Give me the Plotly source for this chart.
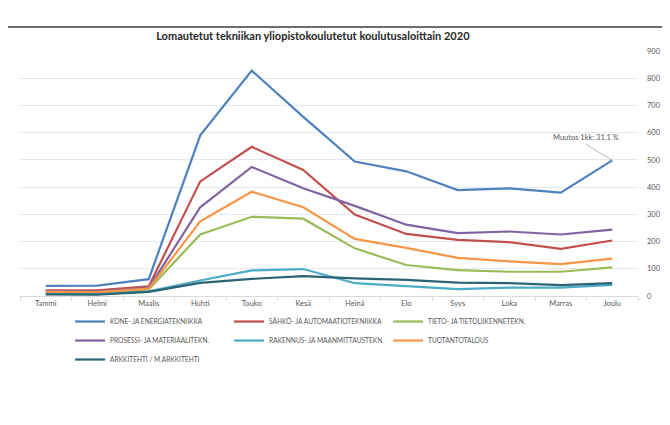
import plotly.graph_objects as go

MONTHS = ["Tammi", "Helmi", "Maalis", "Huhti", "Touko", "Kesä", "Heinä",
          "Elo", "Syys", "Loka", "Marras", "Joulu"]

KONE = [37, 38, 62, 590, 828, 658, 494, 458, 389, 395, 380, 498]
SAHKO = [21, 21, 35, 421, 548, 463, 299, 228, 206, 198, 173, 204]
TIETO = [12, 11, 24, 226, 291, 284, 175, 114, 95, 89, 89, 105]
PROSESSI = [17, 16, 29, 326, 474, 396, 331, 262, 231, 237, 226, 244]
RAKENNUS = [8, 7, 17, 57, 94, 99, 47, 36, 25, 31, 31, 41]
TUOTANTO = [15, 14, 27, 274, 383, 326, 210, 177, 140, 127, 117, 137]
ARKKITEHTI = [6, 5, 15, 48, 63, 73, 65, 59, 49, 47, 40, 47]

SERIES = [
    ("KONE- JA ENERGIATEKNIIKKA", KONE, "#4F81BD"),
    ("SÄHKÖ- JA AUTOMAATIOTEKNIIKKA", SAHKO, "#C0504D"),
    ("TIETO- JA TIETOLIIKENNETEKN.", TIETO, "#9BBB59"),
    ("PROSESSI- JA MATERIAALITEKN.", PROSESSI, "#8064A2"),
    ("RAKENNUS- JA MAANMITTAUSTEKN.", RAKENNUS, "#4BACC6"),
    ("TUOTANTOTALOUS", TUOTANTO, "#F79646"),
    ("ARKKITEHTI / M.ARKKITEHTI", ARKKITEHTI, "#2C6373"),
]

FONT = "Lato"
GREY = "#595959"

fig = go.Figure()
for name, vals, col in SERIES:
    fig.add_trace(go.Scatter(
        x=MONTHS, y=vals, name=name, mode="lines",
        line=dict(color=col, width=2.2),
    ))

fig.add_annotation(
    x="Joulu", y=KONE[-1], text="Muutos 1kk: 31,1 %",
    showarrow=True, arrowhead=0, arrowwidth=0.8, arrowcolor="#A6A6A6",
    ax=-26, ay=-16, font=dict(family=FONT, size=7.5, color=GREY),
    xanchor="center", yanchor="bottom",
)

# dark rule along the top edge
fig.add_shape(type="line", xref="paper", yref="paper",
              x0=-0.03, x1=1.07, y0=1.098, y1=1.098,
              line=dict(color="#6b6b6b", width=2))

fig.update_layout(
    width=670, height=425,
    margin=dict(l=12, r=40, t=43, b=137),
    paper_bgcolor="white", plot_bgcolor="white",
    font=dict(family=FONT, size=7.5, color=GREY),
    title=dict(
        text="<b>Lomautetut tekniikan yliopistokoulutetut koulutusaloittain 2020</b>",
        x=0.455, xanchor="center", y=0.933, yanchor="middle",
        font=dict(family=FONT, size=11, color="#262626"),
    ),
    xaxis=dict(
        range=[-0.5, 11.5], tickmode="array", tickvals=MONTHS,
        showgrid=False, showline=True, linecolor="#D9D9D9",
        ticks="outside", ticklen=4, tickcolor="#D9D9D9",
        tickson="boundaries", tickfont=dict(size=7.5, color=GREY),
    ),
    yaxis=dict(
        side="right", range=[0, 900], dtick=100,
        showgrid=True, gridcolor="#E3EAF2", zeroline=False,
        tickfont=dict(size=7.5, color=GREY), ticklabelstandoff=8,
    ),
    legend=dict(
        orientation="h", x=0.081, xanchor="left", y=-0.045, yanchor="top",
        entrywidth=114, entrywidthmode="pixels",
        itemwidth=30, tracegroupgap=0, bgcolor="rgba(0,0,0,0)",
        font=dict(family=FONT, size=6.6, color=GREY),
    ),
    showlegend=True,
)

fig.write_html("out.html")
